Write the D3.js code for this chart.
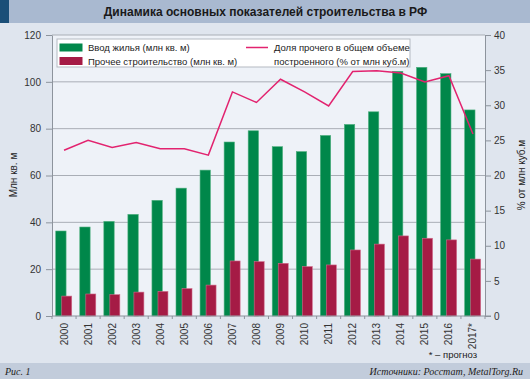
<!DOCTYPE html>
<html><head><meta charset="utf-8">
<script src="https://cdn.jsdelivr.net/npm/d3@7"></script>
<style>body{margin:0;}svg{display:block;font-family:"Liberation Sans",Arial,sans-serif;}</style>
</head><body>
<svg id="c" width="530" height="379"></svg>
<script>
const years = ["2000","2001","2002","2003","2004","2005","2006","2007","2008","2009","2010","2011","2012","2013","2014","2015","2016","2017*"];
const housing = [36.3,38.0,40.4,43.4,49.4,54.6,62.3,74.3,79.1,72.3,70.2,77.1,81.8,87.2,104.5,106.2,103.5,88.0];
const otherConstr = [8.5,9.4,9.1,10.2,10.5,11.7,13.2,23.5,23.2,22.5,21.1,21.8,28.2,30.7,34.2,33.2,32.5,24.3];
const otherShare = [23.6,25.0,24.0,24.7,23.8,23.8,22.9,31.9,30.4,33.7,31.9,29.9,34.8,34.9,34.6,33.3,34.2,25.9];
const leftTicks = [0,20,40,60,80,100,120];
const rightTicks = [0,5,10,15,20,25,30,35,40];
const title = "Динамика основных показателей строительства в РФ";
const legendLabels = ["Ввод жилья (млн кв. м)","Прочее строительство (млн кв. м)",["Доля прочего в общем объеме","построенного (% от млн куб.м)"]];

const svg = d3.select("#c");
const L=52, R=485, T=35, B=316;
const C = {bg:"#dfe5ee", plot:"#eef2f8", green:"#00874a", red:"#a51b45", line:"#e2236f", grid:"#a9aeb6", axis:"#8d949d"};

svg.append("rect").attr("width",530).attr("height",379).attr("fill",C.bg);
svg.append("rect").attr("width",530).attr("height",23).attr("fill","#a9b9d0");
svg.append("rect").attr("width",9).attr("height",23).attr("fill","#1b4f78");
svg.append("text").attr("x",265.5).attr("y",16).attr("text-anchor","middle").attr("font-size",12).attr("font-weight","bold").attr("fill","#1a1a1a").text(title);

svg.append("rect").attr("x",L).attr("y",T).attr("width",R-L).attr("height",B-T).attr("fill",C.plot);

const x = d3.scaleBand().domain(years).range([L,R]).padding(0);
const yL = d3.scaleLinear().domain([0,120]).range([B,T]);
const yR = d3.scaleLinear().domain([0,40]).range([B,T]);
const bw = x.bandwidth();

// grid
svg.append("g").selectAll("line").data(leftTicks.filter(d=>d>0)).join("line")
  .attr("x1",L).attr("x2",R).attr("y1",d=>yL(d)).attr("y2",d=>yL(d))
  .attr("stroke",C.grid).attr("stroke-width",1);

// bars
svg.append("g").selectAll("rect").data(housing).join("rect")
  .attr("x",(d,i)=>x(years[i])+bw*0.155).attr("width",bw*0.43)
  .attr("y",d=>yL(d)).attr("height",d=>B-yL(d))
  .attr("fill",C.green).attr("stroke","#4fb07f").attr("stroke-width",0.6);
svg.append("g").selectAll("rect").data(otherConstr).join("rect")
  .attr("x",(d,i)=>x(years[i])+bw*0.405).attr("width",bw*0.415)
  .attr("y",d=>yL(d)).attr("height",d=>B-yL(d))
  .attr("fill",C.red).attr("stroke","#d06a8a").attr("stroke-width",0.6);

// line
const line = d3.line().x((d,i)=>x(years[i])+bw/2).y(d=>yR(d));
svg.append("path").datum(otherShare).attr("d",line).attr("fill","none")
  .attr("stroke",C.line).attr("stroke-width",1.5).attr("stroke-linejoin","miter");

// axes
function styleAxis(g){
  g.selectAll(".domain").attr("stroke",C.axis);
  g.selectAll(".tick line").attr("stroke",C.axis);
  g.selectAll(".tick text").attr("font-size",10).attr("fill","#333").attr("font-family","Liberation Sans, Arial, sans-serif");
}
const gl = svg.append("g").attr("transform",`translate(${L},0)`)
  .call(d3.axisLeft(yL).tickValues(leftTicks).tickSize(6).tickSizeOuter(0).tickPadding(5));
styleAxis(gl);
const gr = svg.append("g").attr("transform",`translate(${R},0)`)
  .call(d3.axisRight(yR).tickValues(rightTicks).tickSize(6).tickSizeOuter(0).tickPadding(3));
styleAxis(gr);

// bottom axis
svg.append("line").attr("x1",L).attr("x2",R+6).attr("y1",B).attr("y2",B).attr("stroke",C.axis);
const xb = svg.append("g").attr("transform",`translate(0,${B})`)
  .call(d3.axisBottom(x).tickSize(0).tickPadding(0));
xb.select(".domain").remove();
xb.selectAll(".tick text").attr("font-size",10).attr("fill","#333")
  .attr("text-anchor","end").attr("transform","translate(0,7) rotate(-90)")
  .attr("dy","0.35em").attr("y",0).attr("x",0);
svg.append("g").selectAll("line").data(years.concat([null])).join("line")
  .attr("x1",(d,i)=>L+i*bw).attr("x2",(d,i)=>L+i*bw).attr("y1",B).attr("y2",B+3)
  .attr("stroke",C.axis);

// axis titles
svg.append("text").attr("transform","translate(17,175) rotate(-90)").attr("text-anchor","middle")
  .attr("font-size",10).attr("fill","#222").text("Млн кв. м");
svg.append("text").attr("transform","translate(525,175) rotate(-90)").attr("text-anchor","middle")
  .attr("font-size",10).attr("fill","#222").text("% от млн куб.м");

// legend
svg.append("rect").attr("x",57).attr("y",39).attr("width",353).attr("height",28)
  .attr("fill","#ffffff").attr("stroke","#b4b9c1");
svg.append("rect").attr("x",59.5).attr("y",43.5).attr("width",23).attr("height",8).attr("fill",C.green);
svg.append("rect").attr("x",59.5).attr("y",57).attr("width",23).attr("height",8).attr("fill",C.red);
svg.append("text").attr("x",88).attr("y",51).attr("font-size",9.5).attr("fill","#222").text(legendLabels[0]);
svg.append("text").attr("x",88).attr("y",64.5).attr("font-size",9.5).attr("fill","#222").text(legendLabels[1]);
svg.append("line").attr("x1",246).attr("x2",268).attr("y1",47.5).attr("y2",47.5).attr("stroke",C.line).attr("stroke-width",1.5);
svg.append("text").attr("x",274).attr("y",51).attr("font-size",9.5).attr("fill","#222").text(legendLabels[2][0]);
svg.append("text").attr("x",274).attr("y",64.5).attr("font-size",9.5).attr("fill","#222").text(legendLabels[2][1]);

// footnote & footer
svg.append("text").attr("x",477).attr("y",358).attr("text-anchor","end").attr("font-size",9.5).attr("fill","#222").text("* – прогноз");
svg.append("rect").attr("y",363).attr("width",530).attr("height",16).attr("fill","#c2ccdb");
svg.append("text").attr("x",5).attr("y",375).attr("font-size",10).attr("font-style","italic")
  .attr("font-family","Liberation Serif, serif").attr("fill","#222").text("Рис. 1");
svg.append("text").attr("x",523).attr("y",375).attr("text-anchor","end").attr("font-size",10).attr("font-style","italic")
  .attr("font-family","Liberation Serif, serif").attr("fill","#222").text("Источники: Росстат, MetalTorg.Ru");
</script>
</body></html>
